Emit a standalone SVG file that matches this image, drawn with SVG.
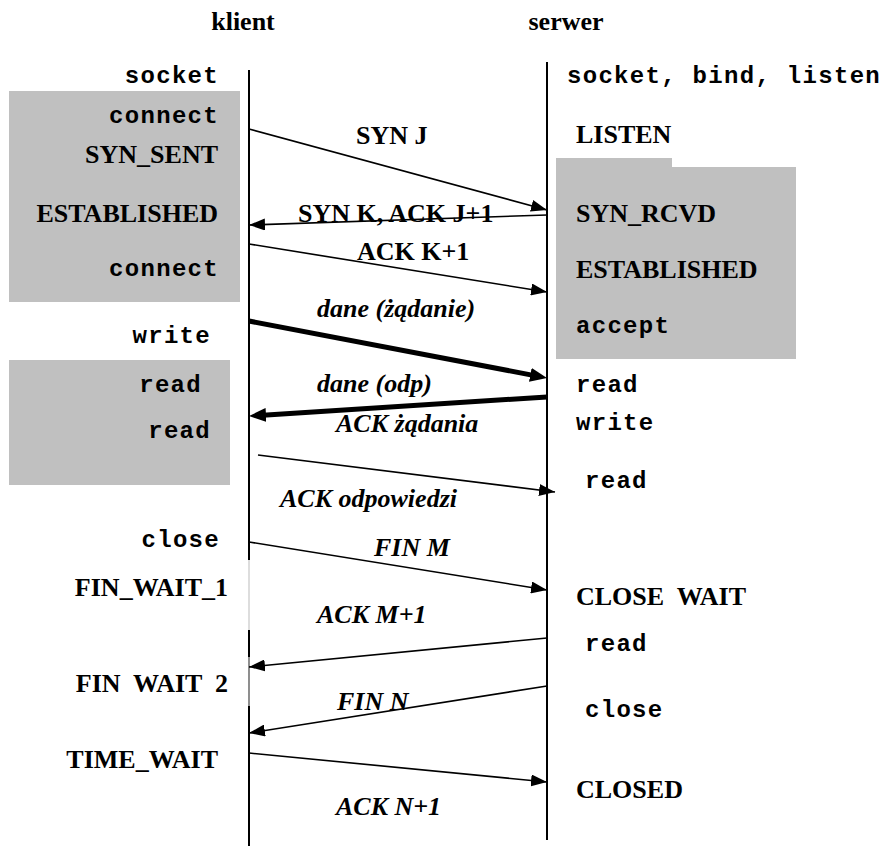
<svg xmlns="http://www.w3.org/2000/svg" width="890" height="846" viewBox="0 0 890 846">
  <style>
    .title { font-family: "Liberation Serif", "Times New Roman", serif; font-weight: bold; font-size: 26px; fill: #000; }
    .state { font-family: "Liberation Serif", "Times New Roman", serif; font-weight: bold; font-size: 26px; fill: #000; }
    .call  { font-family: "Liberation Mono", "Courier New", monospace; font-weight: bold; font-size: 24px; letter-spacing: 1.3px; fill: #000; }
    .msg   { font-family: "Liberation Serif", "Times New Roman", serif; font-weight: bold; font-size: 26px; fill: #000; }
    .msgi  { font-family: "Liberation Serif", "Times New Roman", serif; font-weight: bold; font-style: italic; font-size: 26px; fill: #000; }
    .life  { stroke: #000; stroke-width: 2; fill: none; }
    .shade { fill: #c0c0c0; }
    .arrow { stroke: #000; stroke-width: 1.6; fill: none; marker-end: url(#head); }
    .data  { stroke: #000; stroke-width: 5; fill: none; marker-end: url(#headBig); }
    .pre   { white-space: pre; }
  </style>
  <defs>
    <marker id="head" markerUnits="userSpaceOnUse" markerWidth="16" markerHeight="12" refX="16" refY="6" orient="auto">
      <path d="M0,0 L16,6 L0,12 z" fill="#000"/>
    </marker>
    <marker id="headBig" markerUnits="userSpaceOnUse" markerWidth="17" markerHeight="14" refX="7" refY="7" orient="auto">
      <path d="M0,0 L17,7 L0,14 z" fill="#000"/>
    </marker>
  </defs>

  <rect width="890" height="846" fill="#fff"/>

  <!-- client side -->
  <g id="klient">
    <rect class="shade" x="9" y="91" width="231" height="211"/>
    <rect class="shade" x="9" y="360" width="221" height="125"/>
    <text class="title" x="243" y="30" text-anchor="middle">klient</text>
    <!-- lifeline, partly faded where the state labels sit -->
    <line class="life" x1="249" y1="70" x2="249" y2="560"/>
    <line x1="249" y1="560" x2="249" y2="630" stroke="#bbbbbb" stroke-width="1"/>
    <line class="life" x1="249" y1="630" x2="249" y2="657"/>
    <line x1="249" y1="657" x2="249" y2="706" stroke="#444" stroke-width="1.2"/>
    <line class="life" x1="249" y1="706" x2="249" y2="846"/>

    <text class="call" x="219" y="83" text-anchor="end">socket</text>
    <text class="call" x="219" y="123" text-anchor="end">connect</text>
    <text class="state" x="218" y="163" text-anchor="end">SYN_SENT</text>
    <text class="state" x="218" y="222" text-anchor="end">ESTABLISHED</text>
    <text class="call" x="219" y="276" text-anchor="end">connect</text>
    <text class="call" x="211" y="343" text-anchor="end">write</text>
    <text class="call" x="202" y="392" text-anchor="end">read</text>
    <text class="call" x="211" y="438" text-anchor="end">read</text>
    <text class="call" x="220" y="547" text-anchor="end">close</text>
    <text class="state" x="228" y="596" text-anchor="end">FIN_WAIT_1</text>
    <text class="state pre" x="228" y="692" text-anchor="end">FIN  WAIT  2</text>
    <text class="state" x="218" y="768" text-anchor="end">TIME_WAIT</text>
  </g>

  <!-- server side -->
  <g id="serwer">
    <path class="shade" d="M556,158 H672 V167 H796 V359 H556 Z"/>
    <text class="title" x="566" y="30" text-anchor="middle">serwer</text>
    <line class="life" x1="547" y1="62" x2="547" y2="840"/>

    <text class="call" x="567" y="83">socket, bind, listen</text>
    <text class="state" x="576" y="143">LISTEN</text>
    <text class="state" x="576" y="222">SYN_RCVD</text>
    <text class="state" x="576" y="278">ESTABLISHED</text>
    <text class="call" x="576" y="333">accept</text>
    <text class="call" x="576" y="392">read</text>
    <text class="call" x="576" y="430">write</text>
    <text class="call" x="585" y="488">read</text>
    <text class="state pre" x="576" y="605">CLOSE  WAIT</text>
    <text class="call" x="585" y="651">read</text>
    <text class="call" x="585" y="717">close</text>
    <text class="state" x="576" y="798">CLOSED</text>
  </g>

  <!-- segments exchanged between the two hosts -->
  <g id="connectors">
    <line class="arrow" x1="249" y1="129" x2="547" y2="210"/>
    <line class="arrow" x1="547" y1="215" x2="249" y2="225"/>
    <line class="arrow" x1="249" y1="244" x2="547" y2="292"/>
    <line class="data" x1="249" y1="321" x2="537.2" y2="376.1"/>
    <line class="data" x1="547" y1="397" x2="259" y2="415.4"/>
    <line class="arrow" x1="258" y1="455" x2="555" y2="492"/>
    <line class="arrow" x1="249" y1="542" x2="547" y2="590"/>
    <line class="arrow" x1="547" y1="638" x2="249" y2="667"/>
    <line class="arrow" x1="547" y1="686" x2="249" y2="733"/>
    <line class="arrow" x1="249" y1="753" x2="547" y2="782"/>

    <text class="msg" x="356" y="144">SYN J</text>
    <text class="msg" x="298" y="222">SYN K, ACK J+1</text>
    <text class="msg" x="357" y="260">ACK K+1</text>
    <text class="msgi" x="317" y="317">dane (żądanie)</text>
    <text class="msgi" x="317" y="392">dane (odp)</text>
    <text class="msgi" x="336" y="432">ACK żądania</text>
    <text class="msgi" x="280" y="507">ACK odpowiedzi</text>
    <text class="msgi" x="374" y="556">FIN M</text>
    <text class="msgi" x="317" y="623">ACK M+1</text>
    <text class="msgi" x="337" y="710">FIN N</text>
    <text class="msgi" x="336" y="815">ACK N+1</text>
  </g>
</svg>
